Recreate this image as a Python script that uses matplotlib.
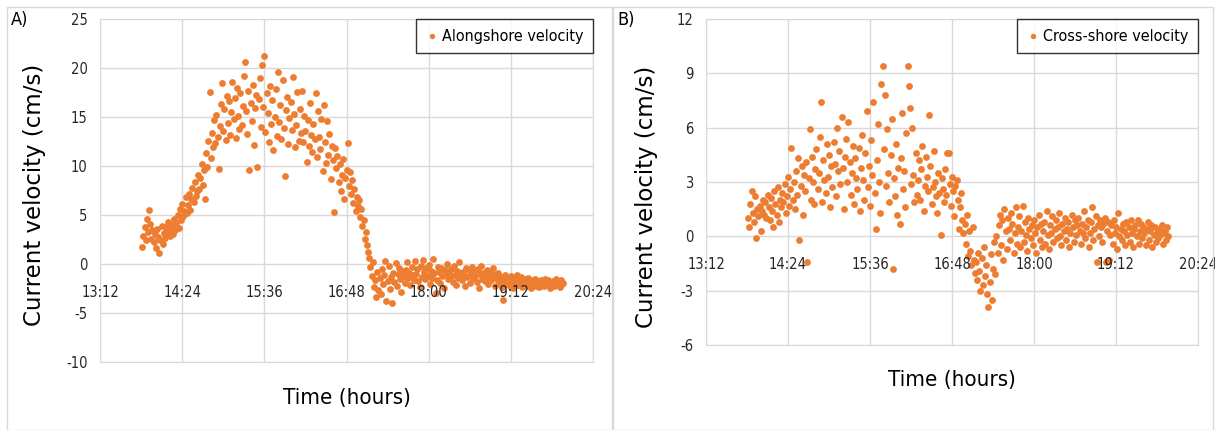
import matplotlib.pyplot as plt
import matplotlib.patches as mpatches
import numpy as np

# ADCP record, one sample per minute starting 13:49 (hours on x axis)
start_hour = 13 + 49 / 60
sample_step_min = 1

# Alongshore velocity (cm/s), rows of 10 minutes
alongshore = [
    1.7, 2.9, 3.8, 2.4, 4.6, 3.3, 5.5, 4.1, 2.6, 3.5,
    2.2, 3.1, 1.6, 3.6, 2.8, 1.1, 2.5, 3.9, 2.0, 3.2,
    2.7, 3.8, 3.3, 4.3, 2.9, 3.6, 4.0, 3.1, 4.6, 3.5,
    4.2, 5.0, 3.7, 5.6, 4.5, 6.1, 4.9, 5.4, 6.8, 5.2,
    6.0, 7.1, 5.5, 6.6, 7.8, 6.3, 8.4, 6.9, 7.4, 9.1,
    7.7, 8.8, 10.2, 8.1, 9.6, 6.6, 11.3, 9.9, 12.6, 17.6,
    10.8, 13.4, 11.9, 14.7, 12.3, 15.2, 13.0, 9.7, 14.1, 16.3,
    18.5, 13.6, 15.8, 12.7, 17.1, 14.4, 16.6, 13.2, 15.5, 18.6,
    14.8, 16.9, 12.9, 18.0, 15.1, 13.8, 17.4, 14.2, 16.1, 19.2,
    20.6, 15.6, 13.3, 17.7, 9.6, 16.4, 14.6, 18.3, 12.1, 15.9,
    17.2, 9.9, 16.8, 19.0, 14.0, 20.3, 16.0, 21.2, 13.5, 17.5,
    15.4, 12.4, 18.2, 14.3, 16.7, 11.6, 15.0, 17.9, 13.1, 19.6,
    14.5, 16.2, 12.8, 18.8, 13.9, 9.0, 15.7, 17.0, 12.2, 14.9,
    16.5, 13.7, 19.1, 15.3, 11.9, 14.2, 17.6, 12.6, 15.8, 13.4,
    17.7, 12.5, 15.1, 13.6, 10.4, 14.7, 12.0, 16.4, 13.2, 11.4,
    14.3, 12.8, 17.5, 10.9, 15.6, 13.0, 11.7, 14.8, 9.5, 16.2,
    12.4, 10.3, 14.6, 11.1, 13.3, 8.7, 12.0, 10.6, 5.3, 11.8,
    9.8, 11.0, 8.4, 10.2, 7.4, 9.1, 10.7, 6.6, 8.8, 9.6,
    12.3, 8.0, 9.4, 7.1, 8.6, 6.2, 7.7, 5.4, 6.8, 5.9,
    6.5, 4.8, 5.6, 3.9, 4.5, 2.6, 3.3, 1.9, 1.2, 0.6,
    -0.3, -1.2, 0.2, -2.3, -1.6, -3.4, -0.8, -2.7, -1.4, -3.1,
    -0.5, -2.0, -1.1, 0.3, -3.8, -1.7, -0.2, -2.5, -1.3, -4.0,
    -0.9, -1.8, 0.1, -2.2, -1.0, -0.4, -1.5, -2.9, -0.7, -1.2,
    -1.9, -0.6, 0.2, -1.4, -0.9, -2.1, -0.3, -1.1, -1.6, 0.3,
    -1.0, -0.5, -1.7, -2.3, -0.2, -1.3, 0.4, -0.8, -1.5, -0.4,
    -1.2, -0.1, -2.0, -0.7, -1.4, 0.5, -0.9, -3.0, -1.6, -0.3,
    -0.8, -1.9, -0.4, -1.2, -2.4, -0.6, -1.0, 0.0, -1.5, -0.9,
    -1.3, -0.5, -1.8, -0.2, -1.1, -2.1, -0.7, -1.4, 0.2, -0.9,
    -1.6, -0.8, -1.1, -2.2, -0.4, -1.3, -0.6, -1.9, -1.0, -0.3,
    -1.4, -0.7, -1.2, -1.8, -0.5, -2.4, -1.0, -0.2, -1.5, -0.9,
    -1.7, -1.1, -0.6, -2.0, -1.3, -0.8, -1.6, -0.4, -1.2, -2.2,
    -1.0, -1.5, -0.9, -1.9, -1.3, -2.3, -3.7, -1.6, -1.1, -2.0,
    -1.4, -1.8, -2.2, -1.2, -1.7, -2.4, -1.5, -1.9, -1.1, -2.1,
    -1.6, -2.0, -1.3, -2.3, -1.8, -1.5, -2.2, -1.9, -1.4, -2.1,
    -1.8, -2.4, -1.6, -2.0, -1.5, -2.2, -1.9, -1.7, -2.3, -1.6,
    -2.0, -1.7, -2.2, -1.5, -1.9, -2.1, -1.6, -2.4, -1.8, -2.0,
    -1.7, -2.2, -1.9, -1.5, -2.1, -1.8, -2.3, -1.6, -2.0, -1.9,
]

# Cross-shore velocity (cm/s), same samples
crossshore = [
    1.0, 0.5, 1.8, 2.5, 1.3, 0.8, 2.2, -0.1, 1.5, 1.1,
    1.7, 0.3, 1.4, 2.0, 1.2, 1.9, 1.0, 2.3, 1.6, 0.9,
    2.1, 1.4, 0.5, 2.5, 1.8, 1.2, 2.7, 0.8, 2.0, 1.6,
    2.4, 1.9, 2.9, 1.3, 2.2, 3.3, 1.7, 2.6, 4.9, 2.0,
    3.0, 1.5, 3.6, 2.3, 4.3, -0.2, 2.8, 3.9, 1.2, 3.4,
    2.5, 4.1, -1.4, 3.2, 5.9, 2.0, 4.4, 3.0, 1.8, 3.7,
    4.8, 2.6, 3.5, 5.5, 7.4, 1.9, 4.2, 3.1, 2.4, 5.1,
    3.3, 4.5, 1.6, 3.9, 2.7, 5.2, 4.0, 2.2, 6.0, 3.6,
    4.7, 2.9, 6.6, 3.8, 1.5, 4.4, 5.4, 3.0, 6.3, 4.1,
    2.3, 3.5, 5.0, 1.8, 4.3, 3.2, 2.6, 4.9, 1.4, 3.8,
    5.6, 3.1, 2.0, 4.6, 6.9, 2.7, 3.9, 1.7, 5.3, 3.4,
    7.4, 2.4, 0.4, 4.2, 6.2, 3.0, 1.3, 8.4, 9.4, 4.8,
    7.8, 2.8, 5.9, 3.5, 1.9, 4.5, 6.5, -1.8, 3.2, 2.2,
    5.1, 1.2, 3.8, 0.7, 4.3, 6.8, 2.6, 3.6, 1.6, 5.7,
    9.4, 8.3, 7.1, 2.9, 6.0, 3.4, 1.9, 4.6, 2.3, 3.1,
    4.2, 2.0, 3.7, 5.0, 1.4, 2.8, 4.4, 3.3, 2.5, 6.7,
    3.9, 1.8, 2.7, 4.7, 3.0, 2.2, 1.3, 3.5, 2.4, 0.1,
    3.2, 2.6, 1.9, 3.7, 2.3, 4.6, 4.6, 2.9, 1.7, 3.3,
    2.5, 1.1, 2.8, 3.1, 2.0, 0.4, 1.6, 2.4, 0.9, 0.2,
    0.7, -0.4, 1.2, -1.1, 0.3, -0.8, -1.6, 0.5, -1.3, -2.0,
    -1.4, -2.4, -0.9, -1.9, -3.0, -1.2, -2.7, -0.6, -2.2, -1.6,
    -3.2, -3.9, -2.5, -1.0, -3.5, -1.8, -0.3, -2.1, 0.0, -0.9,
    0.6, 1.2, -0.5, 0.9, -1.3, 1.5, 0.3, -0.7, 1.0, 0.4,
    -0.2, 1.3, 0.7, -0.9, 0.2, 1.6, -0.4, 0.5, 1.1, -0.6,
    0.3, 1.7, -0.3, 0.8, 0.1, -0.8, 1.0, 0.4, -0.1, 0.6,
    -0.5, 0.9, 0.2, -0.9, 0.5, 1.2, -0.2, 0.7, -0.6, 0.3,
    0.8, -0.4, 1.4, 0.1, -0.7, 0.6, 0.2, 1.1, -0.3, 0.4,
    0.9, -0.1, 0.5, 1.3, 0.0, -0.5, 0.7, 0.3, 1.0, -0.2,
    0.4, 0.8, -0.6, 0.2, 1.2, 0.5, -0.3, 0.9, 0.1, 0.6,
    1.0, 0.3, -0.4, 0.7, 0.2, 1.4, -0.1, 0.5, 0.9, -0.6,
    0.2, 0.8, 1.6, -0.2, 0.4, 1.1, -1.4, 0.6, 0.0, 0.9,
    0.5, -0.3, 0.7, 1.0, -1.4, 0.3, 0.8, -1.3, 0.1, 0.6,
    -0.4, 0.9, 0.2, 0.5, -0.7, 1.3, 0.0, 0.4, -0.2, 0.7,
    0.3, -0.5, 0.8, 0.1, 0.5, -0.3, 0.9, 0.2, -0.6, 0.4,
    0.6, 0.0, 0.9, -0.4, 0.3, 0.7, -0.1, 0.5, 0.2, -0.5,
    0.4, 0.8, -0.2, 0.3, 0.6, -0.6, 0.1, 0.5, -0.3, 0.2,
    -0.1, 0.4, 0.1, 0.6, -0.4, 0.2, 0.3, -0.2, 0.5, 0.0,
]

time_ticks = [13.2, 14.4, 15.6, 16.8, 18.0, 19.2, 20.4]
time_labels = ["13:12", "14:24", "15:36", "16:48", "18:00", "19:12", "20:24"]

panels = [
    dict(vals=alongshore, name="Alongshore velocity", tag="A)",
         rect=[100 / 1215, 68 / 430, 493 / 1215, 343 / 430],
         yticks=[-10, -5, 0, 5, 10, 15, 20, 25], frame=(7, 612),
         xlab_y=398, ylab=(35, 195)),
    dict(vals=crossshore, name="Cross-shore velocity", tag="B)",
         rect=[706 / 1215, 85 / 430, 492 / 1215, 326 / 430],
         yticks=[-6, -3, 0, 3, 6, 9, 12], frame=(613, 1213),
         xlab_y=380, ylab=(647, 197)),
]

orange = "#ED7D31"
grid_c = "#D9D9D9"
# squeezed sans, close to the narrow Calibri look of the original
cond = dict(family="DejaVu Sans", stretch="condensed")

fig = plt.figure(figsize=(12.15, 4.30), dpi=100)

for p in panels:
    vals = np.array(p["vals"])
    times = start_hour + np.arange(len(vals)) * sample_step_min / 60

    ax = fig.add_axes(p["rect"])
    ax.scatter(times, vals, s=24, color=orange, linewidths=0,
               label=p["name"], zorder=3)
    ax.set_xlim(time_ticks[0], time_ticks[-1])
    ax.set_ylim(p["yticks"][0], p["yticks"][-1])
    ax.set_xticks(time_ticks)
    ax.set_yticks(p["yticks"])
    ax.grid(True, color=grid_c, linewidth=1)
    ax.set_axisbelow(True)
    for s in ax.spines.values():
        s.set_color(grid_c)
    ax.tick_params(length=0)
    ax.set_xticklabels([])
    ax.set_yticklabels([str(v) for v in p["yticks"]], fontsize=10.5,
                       color="#262626", **cond)
    ax.tick_params(axis="y", pad=9)

    # time labels sit just under the zero line, like Excel does
    for t, lab in zip(time_ticks, time_labels):
        ax.annotate(lab, (t, 0), xytext=(0, -15), textcoords="offset points",
                    ha="center", va="top", fontsize=10.5, color="#262626",
                    **cond)

    leg = ax.legend(loc="upper right", borderaxespad=0, frameon=True,
                    fancybox=False, handletextpad=0.3, borderpad=0.6,
                    handlelength=0.7, markerscale=0.8,
                    prop=dict(size=11.5, **cond))
    leg.get_frame().set_edgecolor("black")
    leg.get_frame().set_linewidth(1)

    x0, x1 = p["frame"]
    fig.text(p["ylab"][0] / 1215, 1 - p["ylab"][1] / 430,
             "Current velocity (cm/s)", rotation=90, ha="center",
             va="center", fontsize=16.5)
    cx = p["rect"][0] + p["rect"][2] / 2
    fig.text(cx, 1 - p["xlab_y"] / 430, "Time (hours)", ha="center",
             va="center", fontsize=16, **cond)
    fig.text((x0 + 4) / 1215, 1 - 20 / 430, p["tag"], ha="left",
             va="center", fontsize=13, **cond)
    fig.patches.append(mpatches.Rectangle(
        (x0 / 1215, 0), (x1 - x0) / 1215, 1 - 7 / 430,
        transform=fig.transFigure, fill=False, edgecolor=grid_c, lw=1))

fig.savefig("out.png", dpi=100)
